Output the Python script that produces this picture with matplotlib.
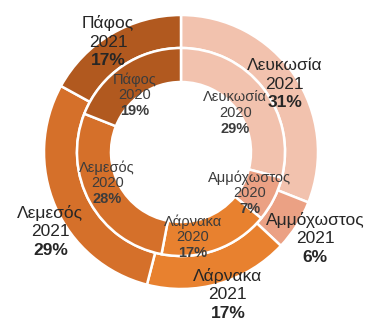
import numpy as np
import matplotlib
matplotlib.use("Agg")
import matplotlib.pyplot as plt

plt.rcParams['font.family'] = ['Liberation Sans', 'DejaVu Sans']

regions = ['Λευκωσία', 'Αμμόχωστος', 'Λάρνακα', 'Λεμεσός', 'Πάφος']
share_2021 = [31, 6, 17, 29, 17]
share_2020 = [29, 7, 17, 28, 19]
colors = ['#f2c2ae', '#eba184', '#e8812f', '#d5702a', '#b1591f']

# label placement (radius in px from centre, angle nudge in degrees)
outer_label_r = [124, 160, 150, 153, 132]
outer_label_da = [-1, -0.5, 2, 8, 3]
inner_label_r = [67, 80, 86, 80, 73]
inner_label_da = [-2, -4, -12, -6, 5]

W, H = 368, 324
cx, cy = 181, H - 152
R = 137
ring = 33

fig = plt.figure(figsize=(W / 100, H / 100), dpi=100)
ax = fig.add_axes([0, 0, 1, 1])
ax.set_aspect('equal')
ax.axis('off')

outer, _ = ax.pie(share_2021, radius=R, center=(cx, cy), colors=colors,
                  startangle=90, counterclock=False,
                  wedgeprops=dict(width=ring, edgecolor='white', linewidth=1.8))
inner, _ = ax.pie(share_2020, radius=R - ring, center=(cx, cy), colors=colors,
                  startangle=90, counterclock=False,
                  wedgeprops=dict(width=ring + 1, edgecolor='white', linewidth=1.8))
ax.set_xlim(0, W)
ax.set_ylim(0, H)


def put_label(w, r, da, name, year, pct, size, color):
    a = np.deg2rad((w.theta1 + w.theta2) / 2 + da)
    x = cx + r * np.cos(a)
    y = cy + r * np.sin(a)
    step = size * 1.5
    ax.text(x, y + step, name, ha='center', va='center', fontsize=size, color=color)
    ax.text(x, y, year, ha='center', va='center', fontsize=size, color=color)
    ax.text(x, y - step, f'{pct}%', ha='center', va='center', fontsize=size,
            color=color, fontweight='bold')


for i, name in enumerate(regions):
    put_label(outer[i], outer_label_r[i], outer_label_da[i], name, 2021,
              share_2021[i], 12.5, '#262626')
    put_label(inner[i], inner_label_r[i], inner_label_da[i], name, 2020,
              share_2020[i], 10.5, '#3c3c3c')

fig.savefig('out.png', dpi=100)
